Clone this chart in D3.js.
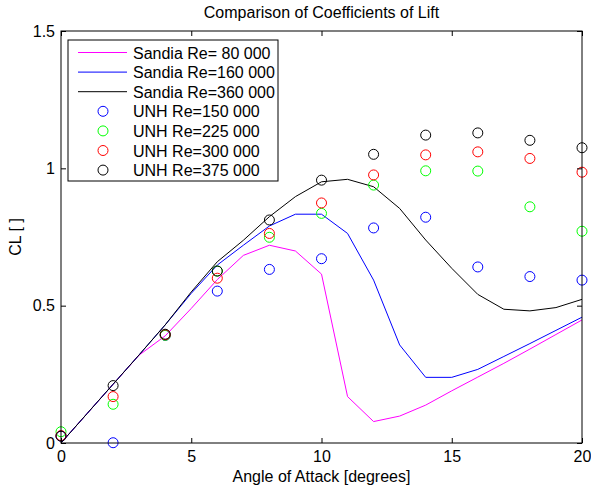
<!DOCTYPE html>
<html>
<head>
<meta charset="utf-8">
<script src="https://cdn.jsdelivr.net/npm/d3@7"></script>
<style>
  body { margin: 0; background: #fff; }
  svg { display: block; font-family: "Liberation Sans", Arial, sans-serif; }
  text { fill: #000; }
</style>
</head>
<body>
<svg id="chart" width="591" height="488"></svg>
<script>
// Sandia curves (angle of attack, integer degrees 0..20)
var sandiaAlpha = [0,1,2,3,4,5,6,7,8,9,10,11,12,13,14,15,16,17,18,19,20];
var sandia80  = [0,0.107,0.214,0.32,0.39,0.49,0.595,0.683,0.72,0.699,0.615,0.169,0.078,0.098,0.138,0.19,0.24,0.29,0.342,0.395,0.448];
var sandia160 = [0,0.107,0.214,0.321,0.43,0.545,0.648,0.72,0.79,0.833,0.833,0.763,0.593,0.357,0.239,0.239,0.268,0.315,0.362,0.41,0.458];
var sandia360 = [0,0.107,0.214,0.321,0.43,0.55,0.66,0.738,0.824,0.897,0.951,0.96,0.933,0.854,0.739,0.636,0.541,0.487,0.481,0.493,0.523];

// UNH measurements
var unhAlpha = [0,2,4,6,8,10,12,14,16,18,20];
var unh150 = [0.025,0.001,0.392,0.553,0.632,0.671,0.783,0.822,0.641,0.606,0.593];
var unh225 = [0.041,0.141,0.392,0.626,0.749,0.836,0.939,0.991,0.990,0.860,0.771];
var unh300 = [0.027,0.169,0.394,0.600,0.763,0.874,0.976,1.049,1.060,1.036,0.986];
var unh375 = [0.025,0.209,0.396,0.626,0.812,0.957,1.051,1.121,1.129,1.102,1.075];

var xTicks = [0,5,10,15,20];
var yTicks = [0,0.5,1,1.5];

var lines = [
  {name:"Sandia Re= 80 000", color:"#ff00ff", values:sandia80},
  {name:"Sandia Re=160 000", color:"#0000ff", values:sandia160},
  {name:"Sandia Re=360 000", color:"#000000", values:sandia360}
];
var points = [
  {name:"UNH Re=150 000", color:"#0000ff", values:unh150},
  {name:"UNH Re=225 000", color:"#00ff00", values:unh225},
  {name:"UNH Re=300 000", color:"#ff0000", values:unh300},
  {name:"UNH Re=375 000", color:"#000000", values:unh375}
];

var fs = 16;
var margin = {top: 31, right: 9, bottom: 45, left: 61},
    width = 591 - margin.left - margin.right,
    height = 488 - margin.top - margin.bottom;

var svg = d3.select("#chart");
var chart = svg.append("g")
    .attr("transform", "translate(" + margin.left + "," + margin.top + ")");

var xScale = d3.scaleLinear().domain([0,20]).range([0,width]);
var yScale = d3.scaleLinear().domain([0,1.5]).range([height,0]);

// lines
var line = d3.line()
    .x(function(d, i) { return xScale(sandiaAlpha[i]); })
    .y(function(d) { return yScale(d); });

chart.selectAll(".sandia")
    .data(lines)
    .enter().append("path")
    .attr("class","sandia")
    .attr("d", function(d) { return line(d.values); })
    .attr("fill","none")
    .attr("stroke", function(d) { return d.color; })
    .attr("stroke-width", 1);

// markers
points.forEach(function(s) {
  chart.append("g").selectAll("circle")
      .data(s.values)
      .enter().append("circle")
      .attr("cx", function(d, i) { return xScale(unhAlpha[i]); })
      .attr("cy", function(d) { return yScale(d); })
      .attr("r", 5)
      .attr("fill","none")
      .attr("stroke", s.color)
      .attr("stroke-width", 1);
});

// axes (inward ticks, all four sides)
var ax = chart.append("g").attr("class","axes");
ax.append("g")
    .attr("transform","translate(0," + height + ")")
    .call(d3.axisBottom(xScale).tickValues(xTicks).tickSizeInner(-5).tickSizeOuter(0).tickPadding(8).tickFormat(d3.format("d")));
ax.append("g")
    .call(d3.axisTop(xScale).tickValues(xTicks).tickSizeInner(-5).tickSizeOuter(0).tickFormat(""));
ax.append("g")
    .call(d3.axisLeft(yScale).tickValues(yTicks).tickSizeInner(-5).tickSizeOuter(0).tickPadding(6).tickFormat(function(d){ return d3.format("")(d); }));
ax.append("g")
    .attr("transform","translate(" + width + ",0)")
    .call(d3.axisRight(yScale).tickValues(yTicks).tickSizeInner(-5).tickSizeOuter(0).tickFormat(""));
ax.selectAll(".domain").remove();
ax.selectAll("line").attr("stroke","#000");
ax.selectAll("text").attr("font-size",fs).attr("font-family","Liberation Sans, Arial, sans-serif").attr("fill","#000");

chart.append("rect")
    .attr("width", width).attr("height", height)
    .attr("fill","none").attr("stroke","#000").attr("stroke-width",1);

// title and axis labels
svg.append("text")
    .attr("x", margin.left + width/2).attr("y", 18)
    .attr("text-anchor","middle").attr("font-size",fs)
    .text("Comparison of Coefficients of Lift");
svg.append("text")
    .attr("x", margin.left + width/2).attr("y", 482)
    .attr("text-anchor","middle").attr("font-size",fs)
    .text("Angle of Attack [degrees]");
svg.append("text")
    .attr("transform","translate(21," + (margin.top + height/2) + ") rotate(-90)")
    .attr("text-anchor","middle").attr("font-size",fs)
    .text("CL [ ]");

// legend
var legend = chart.append("g").attr("transform","translate(7,9)");
legend.append("rect")
    .attr("width", 210).attr("height", 141)
    .attr("fill","#fff").attr("stroke","#000").attr("stroke-width",1);
var rowH = 19.6, row0 = 12.5;
lines.forEach(function(s, i) {
  var y = row0 + i*rowH;
  legend.append("line").attr("x1",10).attr("x2",59).attr("y1",y).attr("y2",y)
      .attr("stroke", s.color).attr("stroke-width",1);
  legend.append("text").attr("x",65).attr("y",y+6).attr("font-size",fs).text(s.name);
});
points.forEach(function(s, i) {
  var y = row0 + (i+3)*rowH;
  legend.append("circle").attr("cx",35).attr("cy",y).attr("r",5)
      .attr("fill","none").attr("stroke", s.color).attr("stroke-width",1);
  legend.append("text").attr("x",65).attr("y",y+6).attr("font-size",fs).text(s.name);
});
</script>
</body>
</html>
